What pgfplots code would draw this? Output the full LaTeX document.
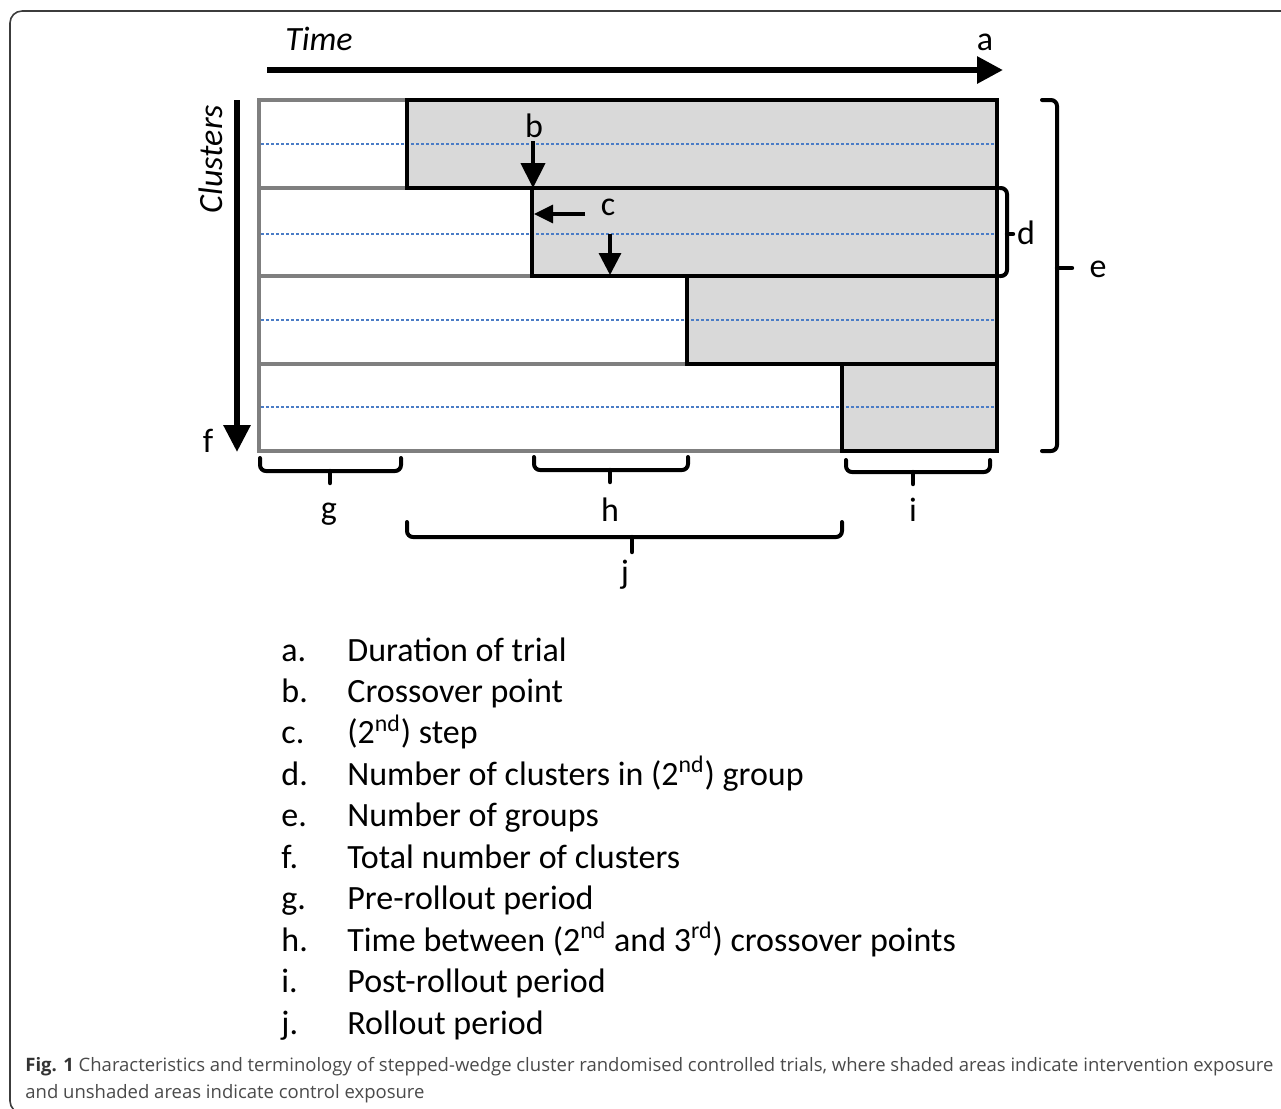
\documentclass[border=0pt]{standalone}
\usepackage{pgfplots}
\pgfplotsset{compat=1.18}
\usepackage{fontspec}
\setmainfont{Carlito}
\newfontfamily\capfont{Open Sans}
\usetikzlibrary{arrows.meta}
\definecolor{shade}{HTML}{D9D9D9}
\definecolor{gline}{HTML}{7F7F7F}
\definecolor{dblue}{HTML}{4A7CC6}
\definecolor{captxt}{HTML}{4A4A4A}
\definecolor{framec}{HTML}{3C3C3C}
\tikzset{lbl/.style={font=\fontsize{17}{20}\selectfont,inner sep=0pt,anchor=base},
  lst/.style={font=\fontsize{17}{20}\selectfont,inner sep=0pt,anchor=base west},
  brk/.style={line width=2pt,rounded corners=3pt,line cap=round,line join=round},
  tip/.style={line width=2.2pt,line cap=round}}
\begin{document}
\begin{tikzpicture}
\begin{axis}[x=0.5pt,y=0.5pt,xmin=0,xmax=1281,ymin=0,ymax=1109,y dir=reverse,
  hide axis,clip=false,no markers,anchor=north west,at={(0,0)}]
% frame
\draw[framec,line width=0.8pt,rounded corners=6pt] (axis cs:1320,1113) -- (axis cs:10,1113) -- (axis cs:10,11) -- (axis cs:1320,11);
% unshaded grid (grey)
\addplot[draw=gline,line width=1.6pt] coordinates {(259,100)(997,100)(997,451)(259,451)} -- cycle;
\addplot[draw=gline,line width=1.6pt] coordinates {(259,188)(997,188)};
\addplot[draw=gline,line width=1.6pt] coordinates {(259,276)(997,276)};
\addplot[draw=gline,line width=1.6pt] coordinates {(259,364)(997,364)};
% shaded (intervention) fills
\addplot[fill=shade,draw=none] coordinates {(407,100)(997,100)(997,188)(407,188)} -- cycle;
\addplot[fill=shade,draw=none] coordinates {(532,188)(997,188)(997,276)(532,276)} -- cycle;
\addplot[fill=shade,draw=none] coordinates {(687,276)(997,276)(997,364)(687,364)} -- cycle;
\addplot[fill=shade,draw=none] coordinates {(842,364)(997,364)(997,451)(842,451)} -- cycle;
% dashed cluster lines
\addplot[dblue,line width=0.6pt,dash pattern=on 1.7pt off 0.8pt] coordinates {(261,144)(995,144)};
\addplot[dblue,line width=0.6pt,dash pattern=on 1.7pt off 0.8pt] coordinates {(261,234)(995,234)};
\addplot[dblue,line width=0.6pt,dash pattern=on 1.7pt off 0.8pt] coordinates {(261,320)(995,320)};
\addplot[dblue,line width=0.6pt,dash pattern=on 1.7pt off 0.8pt] coordinates {(261,407)(995,407)};
% shaded borders
\addplot[draw=black,line width=1.8pt] coordinates {(407,100)(997,100)(997,188)(407,188)} -- cycle;
\addplot[draw=black,line width=1.8pt] coordinates {(532,188)(997,188)(997,276)(532,276)} -- cycle;
\addplot[draw=black,line width=1.8pt] coordinates {(687,276)(997,276)(997,364)(687,364)} -- cycle;
\addplot[draw=black,line width=1.8pt] coordinates {(842,364)(997,364)(997,451)(842,451)} -- cycle;
% Time and Clusters arrows
\addplot[black,line width=3pt,-{Triangle[length=13pt,width=13pt]}] coordinates {(267,70)(1003,70)};
\addplot[black,line width=3pt,-{Triangle[length=13.5pt,width=13pt]}] coordinates {(237,100)(237,452)};
% b, c arrows
\addplot[black,line width=2pt,-{Triangle[length=12.5pt,width=12pt]}] coordinates {(533,141)(533,188)};
\addplot[black,line width=1.6pt,-{Triangle[length=9.5pt,width=9pt]}] coordinates {(585,214)(534,214)};
\addplot[black,line width=1.6pt,-{Triangle[length=11pt,width=11pt]}] coordinates {(610,234)(610,275)};
% brackets
\draw[brk] (axis cs:1000,188) -- (axis cs:1007,188) -- (axis cs:1007,276) -- (axis cs:1000,276);
\draw[tip] (axis cs:1007,234) -- (axis cs:1013,234);
\draw[brk] (axis cs:1042,100) -- (axis cs:1057,100) -- (axis cs:1057,451) -- (axis cs:1042,451);
\draw[tip] (axis cs:1057,268) -- (axis cs:1072,268);
\draw[brk] (axis cs:260,458) -- (axis cs:260,471) -- (axis cs:401,471) -- (axis cs:401,458);
\draw[tip] (axis cs:330,471) -- (axis cs:330,483);
\draw[brk] (axis cs:534,457) -- (axis cs:534,470) -- (axis cs:688,470) -- (axis cs:688,457);
\draw[tip] (axis cs:610,470) -- (axis cs:610,482);
\draw[brk] (axis cs:846,460) -- (axis cs:846,472) -- (axis cs:990,472) -- (axis cs:990,460);
\draw[tip] (axis cs:913,472) -- (axis cs:913,484);
\draw[brk] (axis cs:407,522) -- (axis cs:407,537) -- (axis cs:842,537) -- (axis cs:842,522);
\draw[tip] (axis cs:632,537) -- (axis cs:632,552);
% diagram labels
\node[lbl,font=\fontsize{17}{20}\selectfont\itshape] at (axis cs:319,50) {Time};
\node[lbl,font=\fontsize{17}{20}\selectfont\itshape,rotate=90] at (axis cs:222,159) {Clusters};
\node[lbl] at (axis cs:985,50) {a};
\node[lbl] at (axis cs:534,137) {b};
\node[lbl] at (axis cs:608,215) {c};
\node[lbl] at (axis cs:1026,244) {d};
\node[lbl] at (axis cs:1098,277) {e};
\node[lbl] at (axis cs:208,452) {f};
\node[lbl] at (axis cs:329,519) {g};
\node[lbl] at (axis cs:610,521) {h};
\node[lbl] at (axis cs:913,521) {i};
\node[lbl] at (axis cs:625,583) {j};
% list
\node[lst] at (axis cs:281,661) {a.};
\node[lst] at (axis cs:347,661) {Duration of trial};
\node[lst] at (axis cs:281,702.4) {b.};
\node[lst] at (axis cs:347,702.4) {Crossover point};
\node[lst] at (axis cs:281,743.9) {c.};
\node[lst] at (axis cs:347,743.9) {(2\textsuperscript{nd}) step};
\node[lst] at (axis cs:281,785.3) {d.};
\node[lst] at (axis cs:347,785.3) {Number of clusters in (2\textsuperscript{nd}) group};
\node[lst] at (axis cs:281,826.8) {e.};
\node[lst] at (axis cs:347,826.8) {Number of groups};
\node[lst] at (axis cs:281,868.2) {f.};
\node[lst] at (axis cs:347,868.2) {Total number of clusters};
\node[lst] at (axis cs:281,909.6) {g.};
\node[lst] at (axis cs:347,909.6) {Pre-rollout period};
\node[lst] at (axis cs:281,951.1) {h.};
\node[lst] at (axis cs:347,951.1) {Time between (2\textsuperscript{nd} and 3\textsuperscript{rd}) crossover points};
\node[lst] at (axis cs:281,992.5) {i.};
\node[lst] at (axis cs:347,992.5) {Post-rollout period};
\node[lst] at (axis cs:281,1034) {j.};
\node[lst] at (axis cs:347,1034) {Rollout period};
% caption
\node[inner sep=0pt,anchor=base west,text=captxt,font=\capfont\fontsize{9.25}{11}\selectfont] at (axis cs:25,1071) {{\bfseries\color{black!80}Fig. 1} Characteristics and terminology of stepped-wedge cluster randomised controlled trials, where shaded areas indicate intervention exposure};
\node[inner sep=0pt,anchor=base west,text=captxt,font=\capfont\fontsize{9.25}{11}\selectfont] at (axis cs:25,1098) {and unshaded areas indicate control exposure};
\end{axis}
\pgfresetboundingbox
\path (current axis.south west) rectangle (current axis.north east);
\end{tikzpicture}
\end{document}
